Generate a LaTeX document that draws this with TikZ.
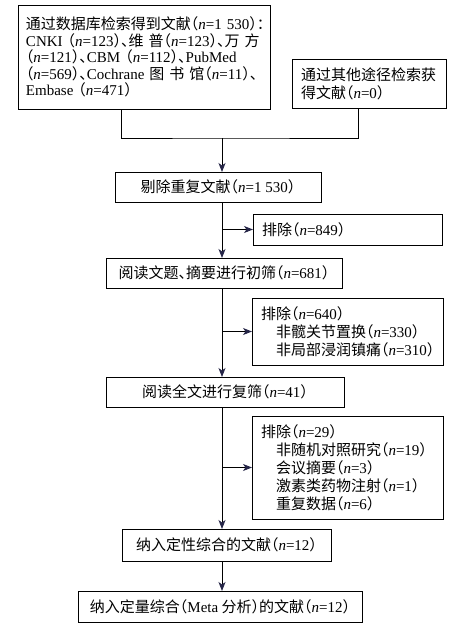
\documentclass[tikz,border=0pt]{standalone}
\usepackage{fontspec}
\setmainfont[RawFeature=+halt]{Noto Sans CJK SC}
\newfontfamily\en{Liberation Serif}
\usepackage{xcolor}
\usepackage{tikz}
\usetikzlibrary{arrows.meta}
\definecolor{arrowblue}{RGB}{38,38,72}
\newcommand{\nval}[1]{{\en\textit{n}=#1}}

\begin{document}
\begin{tikzpicture}[x=1pt, y=-1pt,
  every node/.style={inner sep=0pt, outer sep=0pt},
  box/.style={draw, line width=1pt, font=\fontsize{15}{18}\selectfont},
  mainbox/.style={box, minimum height=30pt, align=center},
  exbox/.style={box, anchor=north west, align=left, inner xsep=9pt},
  flow/.style={line width=0.9pt, -{Stealth[length=9pt, width=7pt, inset=2.5pt, color=arrowblue]}}]
\useasboundingbox (0,0) rectangle (468,630);
% sources
\node[box, anchor=north west, align=left, inner xsep=8pt, text width=236pt, minimum height=104pt,
  font=\fontsize{15}{16.5}\selectfont] (db) at (18,5)
  {通过数据库检索得到文献（\nval{1~530}）：\\
   {\en CNKI} （\nval{123}）、维 普（\nval{123}）、万 方\\
   （\nval{121}）、{\en CBM} （\nval{112}）、{\en PubMed}\\
   （\nval{569}）、{\en Cochrane} 图 书 馆（\nval{11}）、\\
   {\en Embase} （\nval{471}）};
\node[exbox, text width=136pt, minimum height=49pt] (other) at (292,59)
  {通过其他途径检索获\\得文献（\nval{0}）};
\coordinate (dbfoot) at ([xshift=103pt]db.south west);
\coordinate (otherfoot) at ([xshift=-11pt]other.south);
\coordinate (join) at (222,138);
% screening
\node[mainbox, minimum width=206pt] (dedup) at (218,187) {剔除重复文献（\nval{1~530}）};
\node[exbox, text width=171pt, minimum height=31pt] (ex1) at (253,214) {排除（\nval{849}）};
\node[mainbox, minimum width=236pt] (title) at (224,273) {阅读文题、摘要进行初筛（\nval{681}）};
\node[exbox, text width=173pt, minimum height=67pt] (ex2) at (252,298)
  {排除（\nval{640}）\\
   \hspace*{15pt}非髋关节置换（\nval{330}）\\
   \hspace*{15pt}非局部浸润镇痛（\nval{310}）};
\node[mainbox, minimum width=238pt] (full) at (225,392) {阅读全文进行复筛（\nval{41}）};
\node[exbox, text width=173pt, minimum height=103pt] (ex3) at (252,416)
  {排除（\nval{29}）\\
   \hspace*{15pt}非随机对照研究（\nval{19}）\\
   \hspace*{15pt}会议摘要（\nval{3}）\\
   \hspace*{15pt}激素类药物注射（\nval{1}）\\
   \hspace*{15pt}重复数据（\nval{6}）};
% included
\node[mainbox, minimum width=209pt, minimum height=32pt] (qual) at (226.5,545) {纳入定性综合的文献（\nval{12}）};
\node[mainbox, minimum width=284pt, minimum height=31pt] (quant) at (220,606.5) {纳入定量综合（{\en Meta} 分析）的文献（\nval{12}）};

\draw[line width=0.9pt] (dbfoot) |- (join) -| (otherfoot);
\draw[flow] (join) -- (join |- dedup.north);
\draw[flow] (dedup.south -| join) -- (title.north -| join);
\draw[flow] (ex1.west -| join) -- (ex1.west);
\draw[flow] (title.south -| join) -- (full.north -| join);
\draw[flow] (ex2.west -| join) -- (ex2.west);
\draw[flow] (full.south -| join) -- (qual.north -| join);
\draw[flow] (ex3.west -| join) -- (ex3.west);
\draw[flow] (qual.south -| join) -- (quant.north -| join);
\end{tikzpicture}
\end{document}
